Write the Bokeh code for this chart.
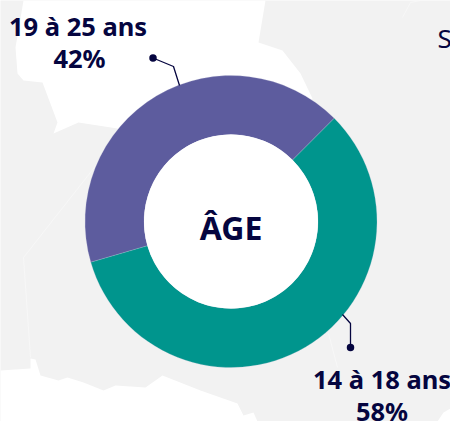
from bokeh.plotting import figure
from bokeh.models import Range1d
from bokeh.core.properties import value
from bokeh.embed import file_html
from bokeh.resources import INLINE
import math

W, H = 450, 421

categories = ["19 à 25 ans", "14 à 18 ans"]
shares = [42, 58]
colors = ["#5D5C9E", "#00958D"]
label_lines = [["19 à 25 ans", "42%"], ["14 à 18 ans", "58%"]]
center_title = "ÂGE"
clipped_text = "S"

NAVY = "#05053F"
GREY = "#F2F2F2"

# decorative map silhouette, in picture pixels
map_top = [(23,0),(15,47),(17,73),(23,80),(42,82),(57,122),(53,133),(78,122),(117,128),(200,200),(312,98),(300,73),(282,50),(258,42),(265,0)]
map_bottom = [(0,370),(30,368),(30,358),(35,359),(40,375),(58,380),(67,377),(83,382),(103,390),(115,385),(145,387),(162,375),(200,390),(237,403),(243,415),(253,412),(257,421),(0,421)]
map_corner = [(437,421),(443,412),(450,408),(450,421)]
map_borders = [[(115,140),(60,210),(23,257),(30,357)], [(402,17),(410,2),(420,0)], [(328,333),(337,367)]]

def Y(v):
    return H - v

p = figure(width=W, height=H, x_range=Range1d(0, W), y_range=Range1d(0, H),
           output_backend="svg", toolbar_location=None, min_border=0,
           background_fill_color=GREY, border_fill_color=GREY, outline_line_color=None)
p.margin = (0, 0, 0, 0)
p.xaxis.visible = False
p.yaxis.visible = False
p.grid.visible = False

for poly in (map_top, map_bottom, map_corner):
    p.patch([a for a, _ in poly], [Y(b) for _, b in poly], fill_color="white", line_color=None)
for border in map_borders:
    p.line([a for a, _ in border], [Y(b) for _, b in border], line_color="white", line_alpha=0.5, line_width=0.8)

cx, cy, r_out, r_in = 230.5, 221, 146, 87
start = math.radians(45)
for share, col in zip(shares, colors):
    end = start + share / sum(shares) * 2 * math.pi
    p.annular_wedge(cx, Y(cy), inner_radius=r_in, outer_radius=r_out,
                    start_angle=start, end_angle=end,
                    inner_radius_units="screen", outer_radius_units="screen",
                    fill_color=col, line_color="#C9C9DE", line_width=0.4, line_alpha=0.6)
    start = end
p.circle(cx, Y(cy), radius=r_in, radius_units="screen", fill_color="white", line_color=None)

leaders = [([152.5,173,179],[57.5,66,85]), ([342,350,350],[314,323,347])]
dots = [(152.5, 57.5), (350, 347)]
for (xs, ys), (dx, dy) in zip(leaders, dots):
    p.line(xs, [Y(v) for v in ys], line_color=NAVY, line_width=1.3)
    p.scatter([dx], [Y(dy)], size=7.5, fill_color=NAVY, line_color=None)

def txt(x, y, s, size, style="bold", align="center"):
    p.text([x], [Y(y)], text=[s], text_font=value("Noto Sans"), text_font_size=f"{size}px",
           text_font_style=style, text_color=NAVY, text_align=align, text_baseline="middle")

txt(77.5, 25, label_lines[0][0], 25.5)
txt(79, 57, label_lines[0][1], 25.5)
txt(381.5, 378, label_lines[1][0], 25.5)
txt(381.5, 410, label_lines[1][1], 25.5)
txt(230.5, 227, center_title, 32)
txt(437, 37, clipped_text, 26, "normal", "left")

open("out.html", "w").write(file_html(p, INLINE))
